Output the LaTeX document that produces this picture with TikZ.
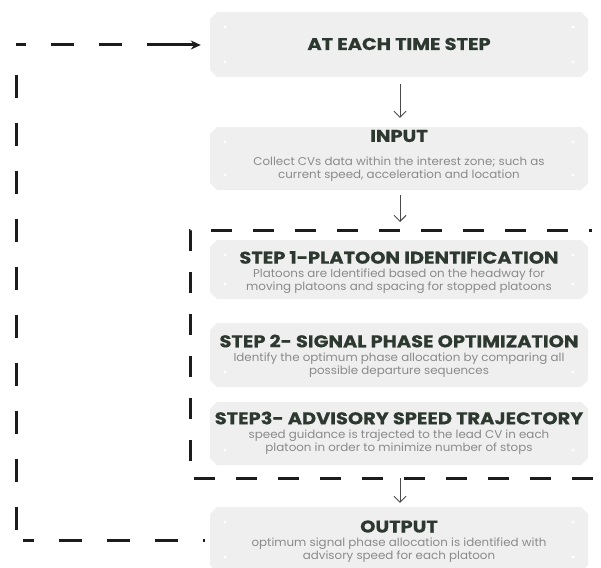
\documentclass[tikz,border=0pt]{standalone}
\usepackage{fontspec}
\setmainfont{Poppins}
\newfontfamily\headfont{Poppins}[FakeStretch=1.14, BoldFeatures={FakeBold=0.5}]
\newfontfamily\notefont{Poppins}[FakeStretch=1.05]
\usetikzlibrary{arrows.meta}

\definecolor{boxfill}{HTML}{EFEFEF}
\definecolor{titleink}{HTML}{2C3830}
\definecolor{noteink}{HTML}{8A8A8A}
\definecolor{loopink}{HTML}{1C1C1C}
\definecolor{flowink}{HTML}{4A4A4A}

\begin{document}
\begin{tikzpicture}[x=1pt,y=-1pt,
  anchorbox/.style={rectangle, draw=none, inner sep=0pt},
  heading/.style={font=\headfont\fontsize{17}{19}\selectfont\bfseries, text=titleink, inner sep=0pt},
  note/.style={font=\notefont\fontsize{11.3}{13.2}\selectfont, text=noteink, align=center, inner sep=0pt},
  flow/.style={draw=flowink, line width=0.9pt, -{Straight Barb[length=6pt,width=12pt]}},
  framedash/.style={draw=loopink, line width=3pt, dash pattern=on 21pt off 21pt, dash phase=18pt},
  loopdash/.style={draw=loopink, line width=3pt, dash pattern=on 23pt off 25pt},
  looptip/.style={draw=loopink, line width=3pt, -{Stealth[length=10pt,width=9pt]}}
]
\useasboundingbox (0,0) rectangle (601,567);

% stage box: chamfered grey panel, an empty node for anchors, white corner dots
% arguments: name, left, top, right, bottom
\newcommand\stagebox[5]{%
  \fill[boxfill] ({#2+7},#3) -- ({#4-7},#3) -- (#4,{#3+7}) -- (#4,{#5-7})
    -- ({#4-7},#5) -- ({#2+7},#5) -- (#2,{#5-7}) -- (#2,{#3+7}) -- cycle;
  \node[anchorbox, minimum width={(#4-#2)*1pt}, minimum height={(#5-#3)*1pt}]
    (#1) at ({(#2+#4)/2},{(#3+#5)/2}) {};
  \foreach \px in {#2+15,#4-15}
    \foreach \py in {#3+15,#5-15}
      \fill[white] (\px,\py) circle (1.6);
}

\stagebox{top}{210}{12}{588}{77}
\stagebox{inp}{210}{127}{588}{190}
\stagebox{sa}{210}{240}{588}{299}
\stagebox{sb}{210}{323}{588}{387}
\stagebox{sc}{210}{402}{588}{465}
\stagebox{out}{210}{507}{588}{572}

% headings and notes
\node[heading] (ttop) at (399,44) {AT EACH TIME STEP};

\node[heading] (tinp) at (399,136) {INPUT};
\node[note] (ninp) at (399,169.5) {Collect CVs data within the interest zone; such as\\current speed, acceleration and location};

\node[heading] (tsa) at (399,257.5) {STEP 1-PLATOON IDENTIFICATION};
\node[note] (nsa) at (399,281) {Platoons are Identified based on the headway for\\moving platoons and spacing for stopped platoons};

\node[heading] (tsb) at (399,341) {STEP 2- SIGNAL PHASE OPTIMIZATION};
\node[note] (nsb) at (399,365) {Identify the optimum phase allocation by comparing all\\possible departure sequences};

\node[heading] (tsc) at (399,418) {STEP3- ADVISORY SPEED TRAJECTORY};
\node[note] (nsc) at (399,442) {speed guidance is trajected to the lead CV in each\\platoon in order to minimize number of stops};

\node[heading] (tout) at (399,526.5) {OUTPUT};
\node[note] (nout) at (399,550.5) {optimum signal phase allocation is identified with\\advisory speed for each platoon};

% dashed frame around the three steps (open to the right)
\coordinate (ftr) at (592,230);
\coordinate (ftl) at (190,230);
\coordinate (fbl) at (190,478);
\coordinate (fbr) at (601,478);
\draw[framedash] (ftr) -- (ftl) -- (fbl) -- (fbr);

% main flow
\coordinate (fin) at (400,230);
\coordinate (fout) at (400,478);
\draw[flow, shorten <=7pt, shorten >=9pt] ([xshift=1pt]top.south) -- ([xshift=1pt]inp.north);
\draw[flow, shorten <=5pt, shorten >=8pt] ([xshift=1pt]inp.south) -- (fin);
\draw[flow, shorten >=4pt] (fout) -- ([xshift=1pt]out.north);

% feedback loop back to the next time step: three dashed legs, solid tip
\coordinate (lstart) at (205,540);
\coordinate (lbh) at (23,540);
\coordinate (lbv) at (16,530);
\coordinate (ltv) at (16,52);
\coordinate (lth) at (16,45);
\coordinate (ltip) at (147,45);
\draw[loopdash, dash phase=21pt] (lstart) -- (lbh);
\draw[loopdash, dash phase=0pt] (lbv) -- (ltv);
\draw[loopdash, dash phase=13pt] (lth) -- (ltip);
\draw[looptip, shorten >=9pt] (ltip) -- (top.west |- ltip);
\end{tikzpicture}
\end{document}
